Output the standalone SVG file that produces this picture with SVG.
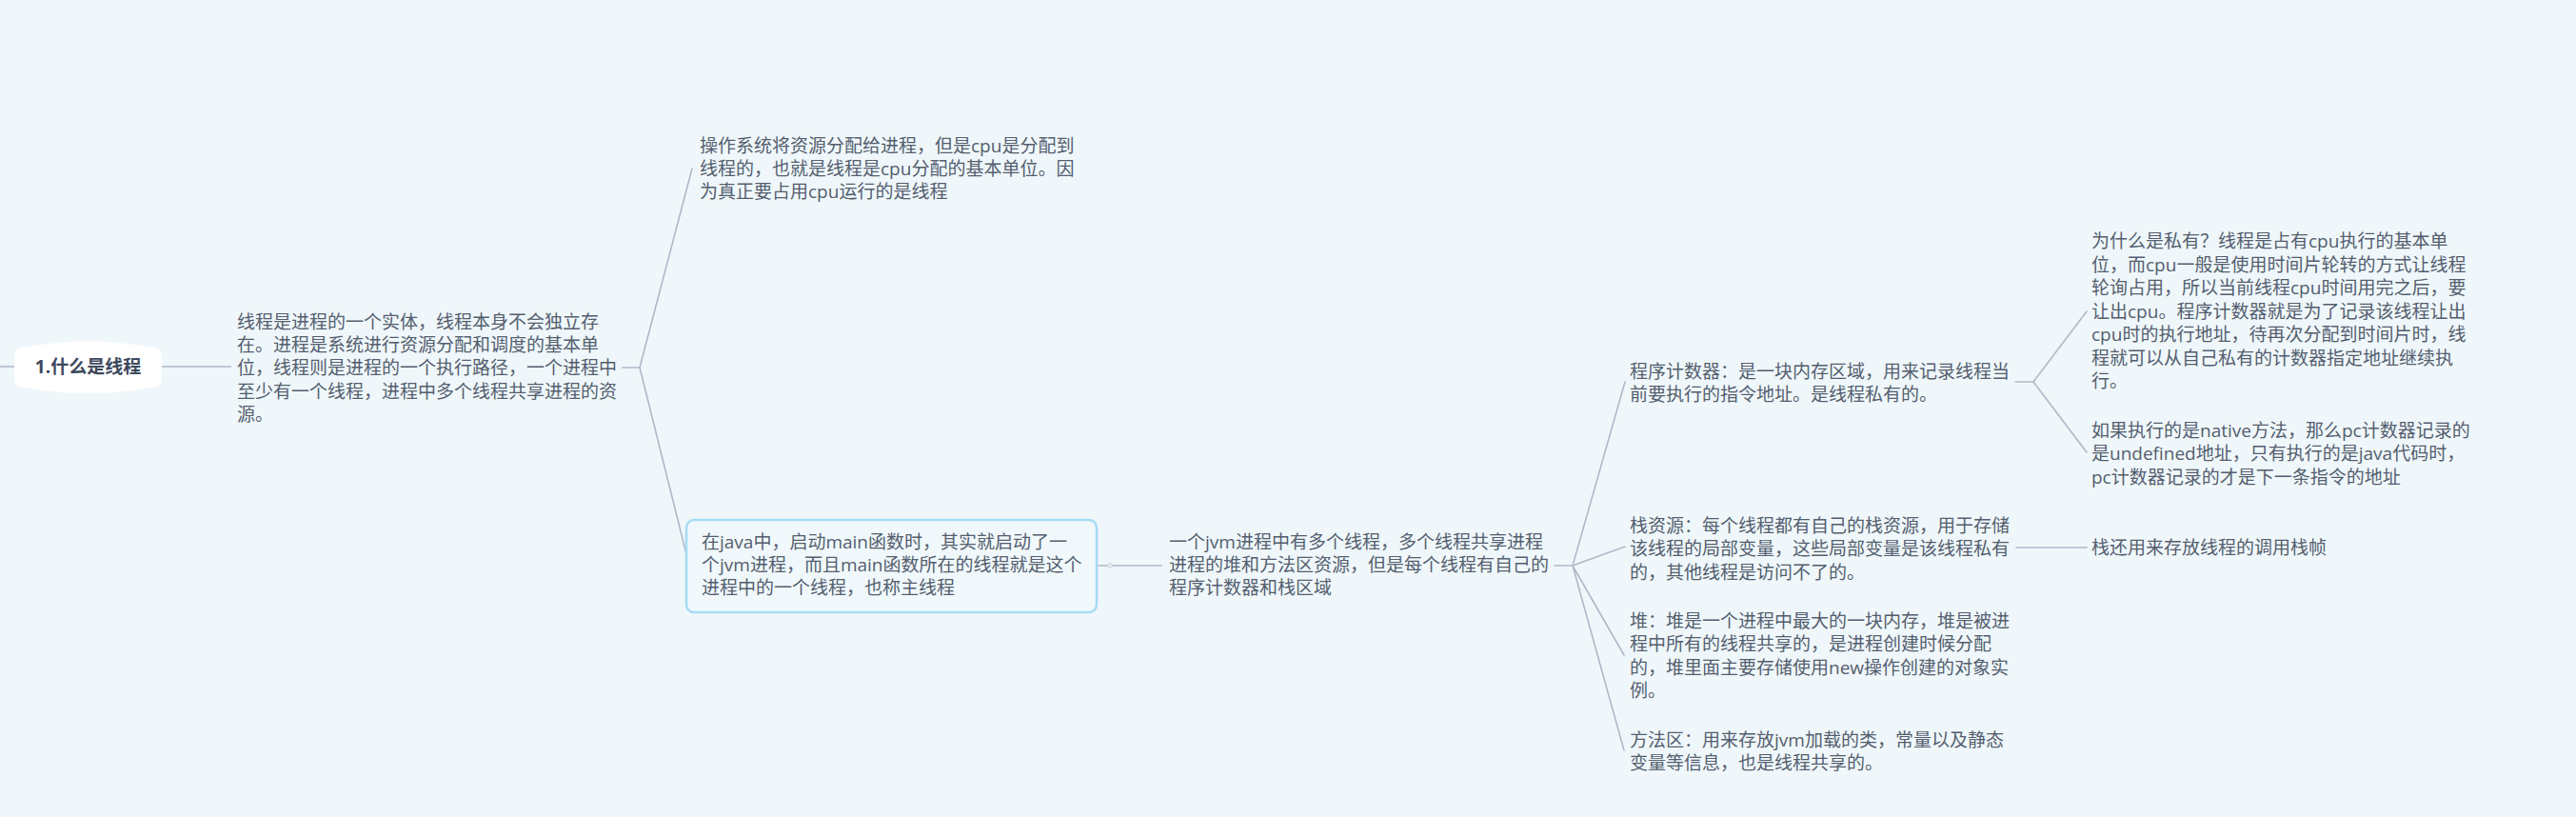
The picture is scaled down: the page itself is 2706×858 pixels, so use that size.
<svg xmlns="http://www.w3.org/2000/svg" width="2706" height="858" viewBox="0 0 2706 858">
<style>
.t{font-family:"Open Sans","Noto Sans CJK SC",sans-serif;font-size:19px;fill:#545e6f}
.root{font-family:"Open Sans","Noto Sans CJK SC",sans-serif;font-size:19px;font-weight:bold;fill:#3c485c}
.c{fill:none;stroke:#b0b9c9;stroke-width:1.6;stroke-linecap:round}
.c2{fill:none;stroke:#bfc7d3;stroke-width:2.2}
</style>
<rect width="2706" height="858" fill="#eff7fa"/>
<g id="connectors">
<path class="c2" d="M0,385H15"/>
<path class="c2" d="M170,385H243"/>
<path class="c" d="M654,386H672L727,177M672,386L724,594"/>
<path class="c" d="M1152,594H1220"/>
<circle cx="1166" cy="594" r="2.2" fill="#eff7fa" stroke="#c3cbd6" stroke-width="1"/>
<path class="c" d="M1633,594H1652L1707,401M1652,594L1707,574M1652,594L1706,688M1652,594L1706,788"/>
<path class="c" d="M2117,401H2136L2192,327M2136,401L2192,475"/>
<path class="c" d="M2118,575H2192"/>
</g>
<g id="root">
<path d="M15,374Q15,366 24,365Q92.5,352 161,365Q170,366 170,374L170,398Q170,406 161,407Q92.5,419 24,407Q15,406 15,398Z" fill="#ffffff"/>
<text class="root" x="92.5" y="392" text-anchor="middle">1.什么是线程</text>
</g>
<g id="n1">
<text class="t" x="249" y="345">线程是进程的一个实体，线程本身不会独立存</text>
<text class="t" x="249" y="369.2">在。进程是系统进行资源分配和调度的基本单</text>
<text class="t" x="249" y="393.4">位，线程则是进程的一个执行路径，一个进程中</text>
<text class="t" x="249" y="417.6">至少有一个线程，进程中多个线程共享进程的资</text>
<text class="t" x="249" y="441.8">源。</text>
</g>
<g id="n2">
<text class="t" x="735" y="159.5">操作系统将资源分配给进程，但是cpu是分配到</text>
<text class="t" x="735" y="183.7">线程的，也就是线程是cpu分配的基本单位。因</text>
<text class="t" x="735" y="207.9">为真正要占用cpu运行的是线程</text>
</g>
<g id="n3">
<rect x="721" y="546" width="431" height="97" rx="8" fill="#f0f8fb" stroke="#a6dbf6" stroke-width="2.5"/>
<text class="t" x="737" y="575.5">在java中，启动main函数时，其实就启动了一</text>
<text class="t" x="737" y="599.7">个jvm进程，而且main函数所在的线程就是这个</text>
<text class="t" x="737" y="623.9">进程中的一个线程，也称主线程</text>
</g>
<g id="n4">
<text class="t" x="1228" y="576">一个jvm进程中有多个线程，多个线程共享进程</text>
<text class="t" x="1228" y="600.2">进程的堆和方法区资源，但是每个线程有自己的</text>
<text class="t" x="1228" y="624.4">程序计数器和栈区域</text>
</g>
<g id="n5">
<text class="t" x="1712" y="396.8">程序计数器：是一块内存区域，用来记录线程当</text>
<text class="t" x="1712" y="421">前要执行的指令地址。是线程私有的。</text>
</g>
<g id="n6">
<text class="t" x="2197" y="260">为什么是私有？线程是占有cpu执行的基本单</text>
<text class="t" x="2197" y="284.5">位，而cpu一般是使用时间片轮转的方式让线程</text>
<text class="t" x="2197" y="309">轮询占用，所以当前线程cpu时间用完之后，要</text>
<text class="t" x="2197" y="333.5">让出cpu。程序计数器就是为了记录该线程让出</text>
<text class="t" x="2197" y="358">cpu时的执行地址，待再次分配到时间片时，线</text>
<text class="t" x="2197" y="382.5">程就可以从自己私有的计数器指定地址继续执</text>
<text class="t" x="2197" y="407">行。</text>
</g>
<g id="n7">
<text class="t" x="2197" y="459">如果执行的是native方法，那么pc计数器记录的</text>
<text class="t" x="2197" y="483.4">是undefined地址，只有执行的是java代码时，</text>
<text class="t" x="2197" y="507.8">pc计数器记录的才是下一条指令的地址</text>
</g>
<g id="n8">
<text class="t" x="1712" y="559">栈资源：每个线程都有自己的栈资源，用于存储</text>
<text class="t" x="1712" y="583.4">该线程的局部变量，这些局部变量是该线程私有</text>
<text class="t" x="1712" y="607.8">的，其他线程是访问不了的。</text>
</g>
<g id="n9">
<text class="t" x="2197" y="582">栈还用来存放线程的调用栈帧</text>
</g>
<g id="n10">
<text class="t" x="1712" y="659">堆：堆是一个进程中最大的一块内存，堆是被进</text>
<text class="t" x="1712" y="683.4">程中所有的线程共享的，是进程创建时候分配</text>
<text class="t" x="1712" y="707.8">的，堆里面主要存储使用new操作创建的对象实</text>
<text class="t" x="1712" y="732.2">例。</text>
</g>
<g id="n11">
<text class="t" x="1712" y="784">方法区：用来存放jvm加载的类，常量以及静态</text>
<text class="t" x="1712" y="808.4">变量等信息，也是线程共享的。</text>
</g>
</svg>
